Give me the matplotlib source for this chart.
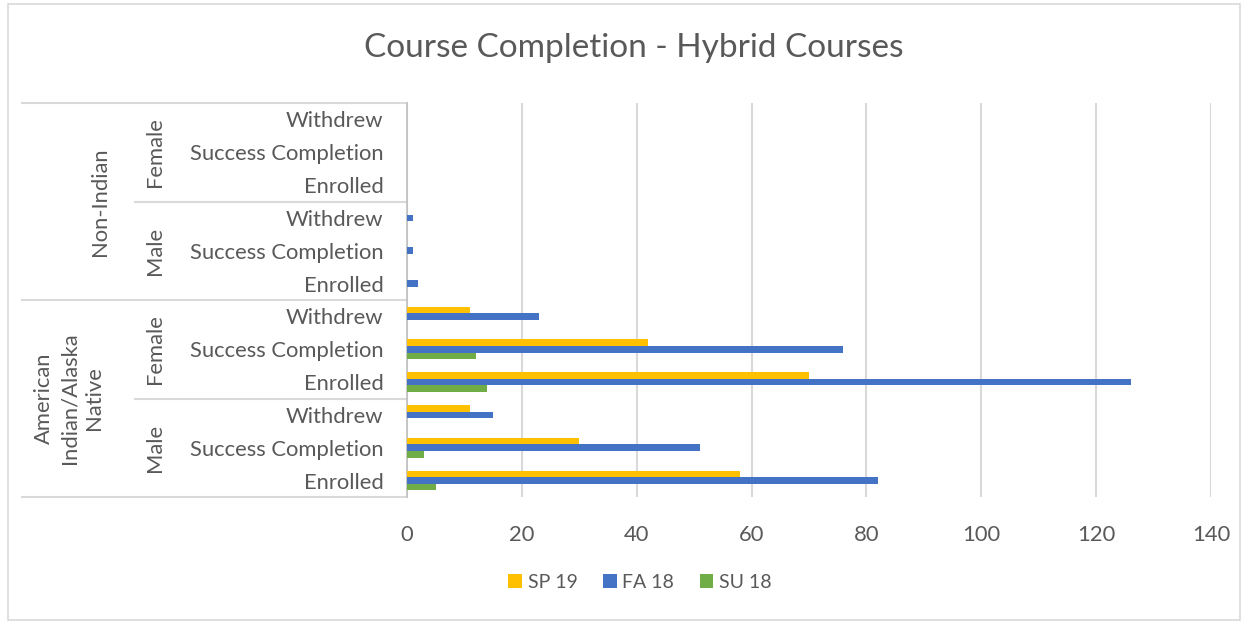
import matplotlib.pyplot as plt
import matplotlib.transforms as mtransforms
from matplotlib.patches import Rectangle
import numpy as np

plt.rcParams['font.family'] = ['Lato', 'DejaVu Sans']

# categories bottom -> top
measures = ["Enrolled", "Success Completion", "Withdrew"] * 4
genders = ["Male", "Female", "Male", "Female"]
groups = ["American\nIndian/Alaska\nNative", "Non-Indian"]

sp19 = [58, 30, 11, 70, 42, 11, 0, 0, 0, 0, 0, 0]
fa18 = [82, 51, 15, 126, 76, 23, 2, 1, 1, 0, 0, 0]
su18 = [5, 3, 0, 14, 12, 0, 0, 0, 0, 0, 0, 0]

xticks = [0, 20, 40, 60, 80, 100, 120, 140]

c_sp = "#FFC000"
c_fa = "#4472C4"
c_su = "#70AD47"
txt = "#595959"
line_c = "#D9D9D9"
fs = 15.8

W, H = 1244, 624
fig = plt.figure(figsize=(W / 100, H / 100), dpi=100)
ax = fig.add_axes([407 / W, 1 - 497 / H, (1211 - 407) / W, (497 - 103) / H])

y = np.arange(len(measures))
bh = 0.2
ax.barh(y + bh, sp19, height=bh, color=c_sp, label="SP 19", zorder=3)
ax.barh(y, fa18, height=bh, color=c_fa, label="FA 18", zorder=3)
ax.barh(y - bh, su18, height=bh, color=c_su, label="SU 18", zorder=3)

ax.set_xlim(0, 140)
ax.set_ylim(-0.5, len(measures) - 0.5)
ax.set_xticks(xticks)
ax.set_xticklabels([str(t) for t in xticks])
ax.set_yticks(y)
ax.set_yticklabels(measures)
ax.tick_params(axis='y', length=0, pad=17, labelsize=fs, labelcolor=txt)
ax.tick_params(axis='x', length=0, pad=20, labelsize=fs, labelcolor=txt)
ax.grid(axis='x', color=line_c, linewidth=1.5, zorder=0)
for s in ["top", "right", "bottom"]:
    ax.spines[s].set_visible(False)
ax.spines["left"].set_color("#BFBFBF")
ax.spines["left"].set_linewidth(1.2)

# multi-level category axis
tr = mtransforms.blended_transform_factory(ax.transAxes, ax.transData)
axw = 1211 - 407
def fx(px):
    return (px - 407) / axw

for yy, x0 in [(11.5, 22), (5.5, 22), (-0.5, 22), (8.5, 135), (2.5, 135)]:
    ax.plot([fx(x0), 0], [yy, yy], transform=tr, color=line_c, lw=1.5, clip_on=False)

for i, g in enumerate(genders):
    ax.text(fx(155), i * 3 + 1, g, transform=tr, rotation=90, ha='center', va='center',
            fontsize=fs, color=txt)
for i, g in enumerate(groups):
    xp = 69 if i == 0 else 100
    ax.text(fx(xp), i * 6 + 2.5, g, transform=tr, rotation=90, ha='center', va='center',
            fontsize=fs, color=txt, linespacing=1.3, multialignment='center')

fig.suptitle("Course Completion - Hybrid Courses", x=634 / W, y=1 - 48 / H, va='center',
             fontsize=24, color=txt)

fig.legend(loc='center', bbox_to_anchor=(640 / W, 1 - 582 / H), ncol=3, frameon=False,
           fontsize=14, labelcolor=txt, handlelength=0.7, handleheight=0.7,
           handletextpad=0.3, columnspacing=1.3)

fig.patches.append(Rectangle((8 / W, 4 / H), (1240 - 8) / W, (620 - 4) / H,
                             transform=fig.transFigure, fill=False, edgecolor="#D9D9D9", lw=1.2))

fig.savefig("out.png", dpi=100)
